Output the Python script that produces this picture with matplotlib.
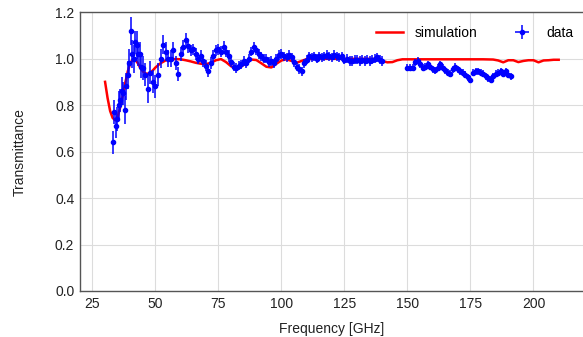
import numpy as np
import matplotlib
matplotlib.use("Agg")
import matplotlib.pyplot as plt

plt.rcParams['font.family'] = ['Liberation Sans', 'DejaVu Sans']

# Measured transmittance (three frequency segments)
freq_a = [33.0, 33.6, 34.2, 34.8, 35.4, 36.0, 36.6, 37.2, 37.8, 38.4, 39.0,
          39.6, 40.2, 40.8, 41.4, 42.0, 42.6, 43.2, 43.8, 44.4, 45.0]
trans_a = [0.64, 0.77, 0.71, 0.74, 0.80, 0.82, 0.86, 0.85, 0.78, 0.88, 0.93,
           0.98, 1.12, 1.02, 1.00, 1.07, 1.06, 1.02, 1.02, 0.965, 0.96]
err_a = [0.05, 0.05, 0.05, 0.05, 0.06, 0.05, 0.06, 0.05, 0.06, 0.06, 0.06,
         0.06, 0.06, 0.06, 0.06, 0.05, 0.06, 0.05, 0.05, 0.05, 0.05]

freq_b = list(range(46, 141))
trans_b = [0.93, 0.87, 0.94, 0.90, 0.88, 0.93, 1.00, 1.06, 1.03, 1.00,
           1.00, 1.035, 0.98, 0.935, 1.02, 1.05, 1.08, 1.055, 1.035, 1.04,
           1.02, 1.00, 1.01, 0.99, 0.97, 0.945, 0.98, 1.01, 1.035, 1.04,
           1.03, 1.05, 1.03, 1.01, 0.985, 0.965, 0.96, 0.97, 0.975, 0.99,
           0.98, 1.00, 1.03, 1.05, 1.035, 1.02, 1.01, 1.00, 1.00, 0.985,
           0.99, 0.98, 1.00, 1.015, 1.02, 1.01, 1.005, 1.015, 1.005, 0.985,
           0.965, 0.955, 0.945, 0.98, 0.995, 1.01, 1.005, 1.01, 1.00, 1.01,
           1.005, 1.01, 1.015, 1.01, 1.005, 1.015, 1.01, 1.005, 1.01, 0.995,
           1.00, 0.99, 0.99, 0.995, 0.995, 0.99, 0.995, 0.99, 0.995, 0.99,
           0.995, 1.00, 1.005, 0.995, 0.99]
err_b = [0.05, 0.06, 0.05, 0.05, 0.05, 0.05, 0.04, 0.04, 0.04, 0.035,
         0.035, 0.035, 0.03, 0.03, 0.03, 0.03, 0.03, 0.03, 0.025, 0.025,
         0.025, 0.025, 0.025, 0.025, 0.025, 0.025, 0.025, 0.025, 0.025, 0.025,
         0.025, 0.025, 0.025, 0.025, 0.02, 0.02, 0.02, 0.02, 0.02, 0.02,
         0.02, 0.02, 0.02, 0.02, 0.02, 0.02, 0.02, 0.02, 0.02, 0.02,
         0.02, 0.02, 0.02, 0.02, 0.02, 0.02, 0.02, 0.02, 0.02, 0.02,
         0.02, 0.02, 0.02, 0.02, 0.02, 0.02, 0.02, 0.02, 0.02, 0.02,
         0.02, 0.02, 0.02, 0.02, 0.02, 0.02, 0.02, 0.02, 0.02, 0.02,
         0.02, 0.02, 0.02, 0.02, 0.02, 0.02, 0.02, 0.02, 0.02, 0.02,
         0.02, 0.02, 0.02, 0.02, 0.02]

freq_c = list(range(150, 192))
trans_c = [0.96, 0.96, 0.96, 0.985, 0.99, 0.975, 0.96, 0.965, 0.975, 0.965,
           0.955, 0.95, 0.96, 0.975, 0.96, 0.95, 0.94, 0.935, 0.955, 0.965,
           0.955, 0.945, 0.94, 0.93, 0.92, 0.91, 0.94, 0.945, 0.945, 0.94,
           0.935, 0.925, 0.915, 0.91, 0.925, 0.935, 0.94, 0.945, 0.935, 0.945,
           0.93, 0.925]
err_c = [0.015] * len(trans_c)

# Simulated transmittance
sim_freq = [30, 31, 32, 33, 34, 35, 36, 37, 38, 39, 40, 41, 42, 43, 44, 45,
            46, 47, 48, 49, 50, 52, 54, 56, 58, 60, 62, 64, 66, 68, 70, 72,
            74, 76, 78, 80, 82, 84, 86, 88, 90, 92, 94, 96, 98, 100, 102, 104,
            106, 108, 110, 114, 118, 122, 126, 130, 134, 138, 140, 142, 144,
            146, 148, 152, 156, 160, 164, 168, 172, 176, 180, 184, 186, 188,
            190, 192, 194, 196, 198, 200, 202, 204, 206, 208, 210]
sim_trans = [0.90, 0.83, 0.775, 0.745, 0.735, 0.75, 0.79, 0.84, 0.895, 0.945,
             0.98, 0.997, 0.995, 0.98, 0.96, 0.945, 0.936, 0.935, 0.94, 0.95,
             0.962, 0.98, 0.992, 0.997, 0.998, 0.997, 0.993, 0.988, 0.982,
             0.978, 0.976, 0.982, 0.993, 0.998, 0.985, 0.967, 0.958, 0.965,
             0.982, 0.996, 0.994, 0.98, 0.965, 0.962, 0.978, 0.992, 0.997,
             0.99, 0.982, 0.99, 0.998, 0.999, 0.999, 0.999, 0.999, 0.999,
             0.999, 0.998, 0.99, 0.984, 0.985, 0.993, 0.997, 0.997, 0.997,
             0.997, 0.997, 0.997, 0.997, 0.997, 0.997, 0.996, 0.992, 0.984,
             0.993, 0.993, 0.985, 0.99, 0.993, 0.993, 0.984, 0.992, 0.993,
             0.995, 0.995]

freq = np.array(freq_a + freq_b + freq_c, dtype=float)
trans = np.array(trans_a + trans_b + trans_c)
err = np.array(err_a + err_b + err_c)

fig = plt.figure(figsize=(5.83, 3.37), dpi=100)
ax = fig.add_axes([0.137, 0.1365, 0.8645, 0.8275])

ax.plot(sim_freq, sim_trans, color='red', lw=1.8, label='simulation', zorder=3)
ax.errorbar(freq, trans, yerr=err, xerr=0.5, fmt='o', color='#0000ff',
            ecolor='#0000ff', ms=3.0, elinewidth=1.1, capsize=0,
            label='data', zorder=4)

ax.set_xlim(20, 220)
ax.set_ylim(0.0, 1.2)
ax.set_xticks([25, 50, 75, 100, 125, 150, 175, 200])
ax.set_yticks([0.0, 0.2, 0.4, 0.6, 0.8, 1.0, 1.2])
ax.yaxis.set_major_formatter(matplotlib.ticker.FormatStrFormatter('%.1f'))

ax.grid(True, color='#dcdcdc', lw=0.8)
ax.set_axisbelow(True)
for s in ax.spines.values():
    s.set_color('#555555')
    s.set_linewidth(1.0)
ax.spines['right'].set_visible(False)
ax.tick_params(length=0, labelsize=10, pad=4, colors='#222222')

ax.set_xlabel('Frequency [GHz]', fontsize=10, color='#222222', labelpad=8)
ax.set_ylabel('Transmittance', fontsize=10, color='#222222', labelpad=20)

ax.legend(loc='upper right', ncol=2, frameon=False, fontsize=10,
          bbox_to_anchor=(1.005, 0.995), columnspacing=2.2, handlelength=2.0)

fig.savefig('out.png', dpi=100)
